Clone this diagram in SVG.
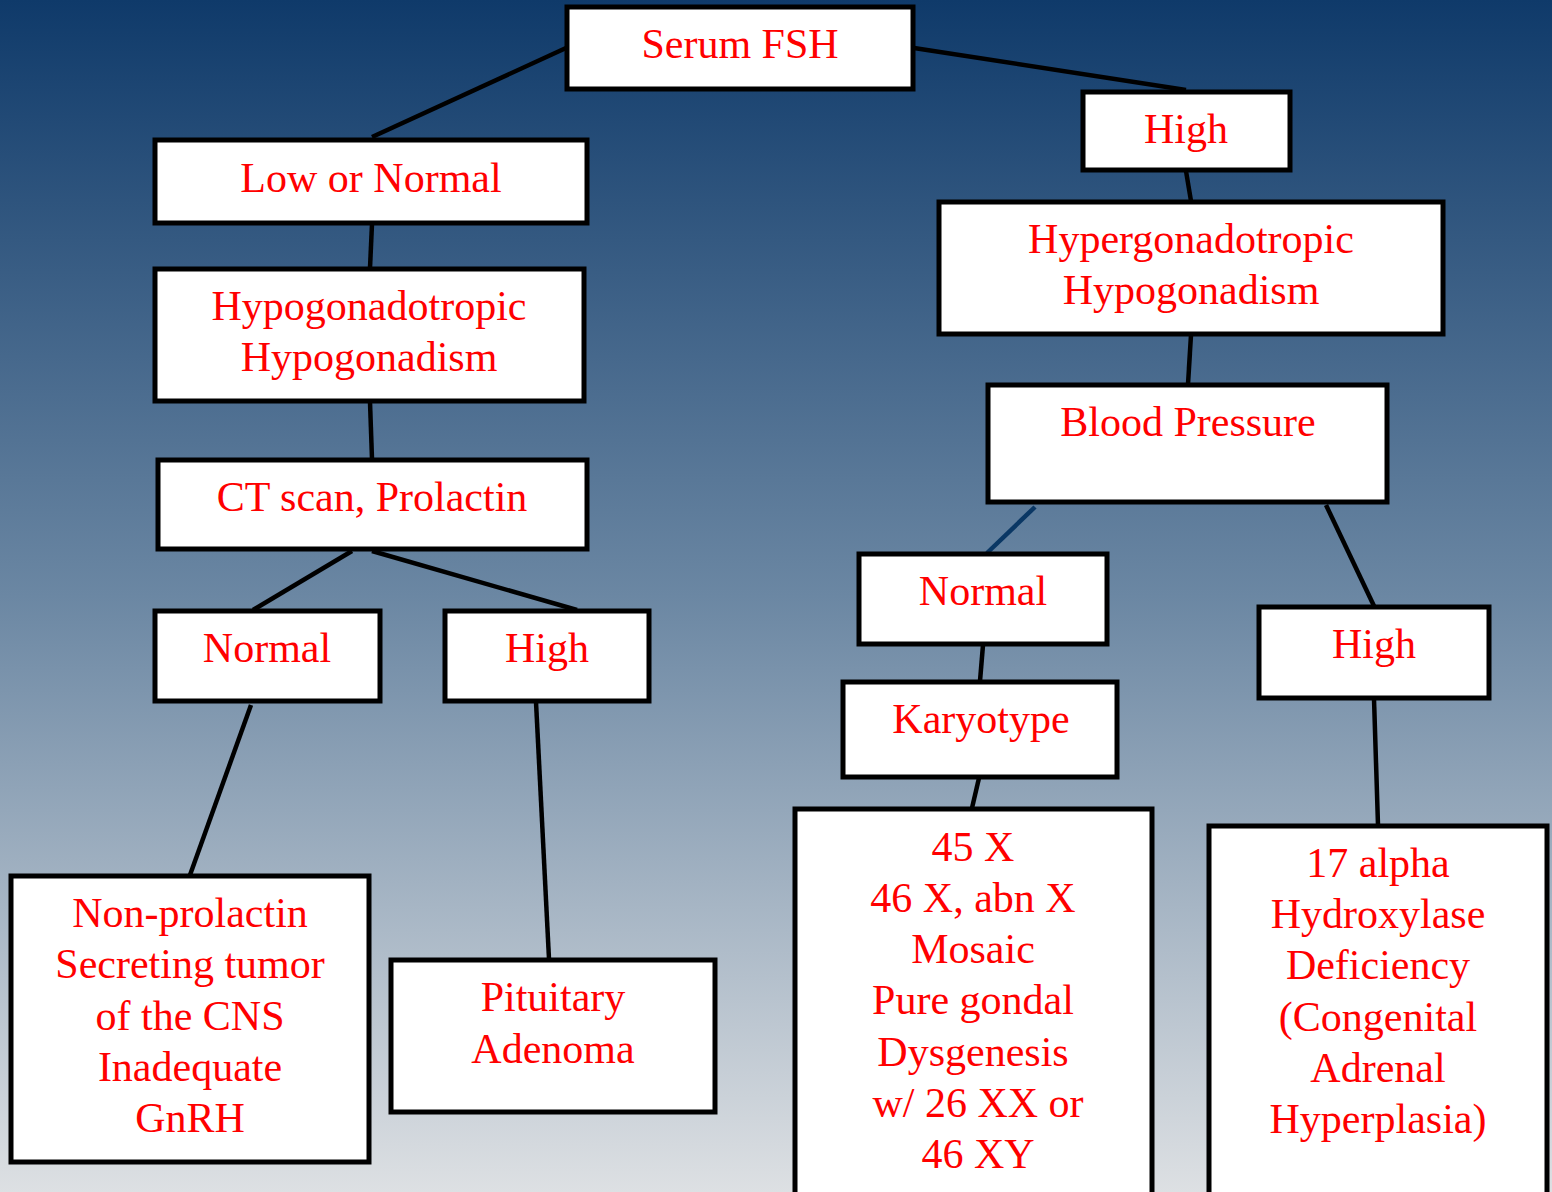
<svg xmlns="http://www.w3.org/2000/svg" width="1552" height="1192" viewBox="0 0 1552 1192">
<defs>
<linearGradient id="bg" x1="0" y1="0" x2="0" y2="1">
<stop offset="0" stop-color="#0f3a6a"/>
<stop offset="0.5" stop-color="#6b87a3"/>
<stop offset="1" stop-color="#dde0e3"/>
</linearGradient>
<style>
.box{fill:#fff;stroke:#000;stroke-width:5}
.t{font-family:"Liberation Serif","Times New Roman",serif;font-size:42px;fill:#ff0000;text-anchor:middle}
.c{stroke:#000;stroke-width:4.5;fill:none}
</style>
</defs>
<rect x="0" y="0" width="1552" height="1192" fill="url(#bg)"/>
<g id="connectors">
<line class="c" x1="566" y1="48" x2="372" y2="137"/>
<line class="c" x1="914" y1="48" x2="1186" y2="90"/>
<line class="c" x1="372" y1="224" x2="370" y2="268"/>
<line class="c" x1="370" y1="402" x2="372" y2="459"/>
<line class="c" x1="352" y1="551" x2="253" y2="610"/>
<line class="c" x1="372" y1="551" x2="577" y2="610"/>
<line class="c" x1="251" y1="705" x2="190" y2="875"/>
<line class="c" x1="536" y1="702" x2="549" y2="959"/>
<line class="c" x1="1186" y1="171" x2="1191" y2="201"/>
<line class="c" x1="1191" y1="335" x2="1188" y2="384"/>
<line class="c" x1="1035" y1="507" x2="987" y2="553" style="stroke:#0a3764"/>
<line class="c" x1="1326" y1="505" x2="1374" y2="606"/>
<line class="c" x1="983" y1="645" x2="980" y2="681"/>
<line class="c" x1="979" y1="778" x2="972" y2="808"/>
<line class="c" x1="1374" y1="699" x2="1378" y2="825"/>
</g>
<g id="serum-fsh"><rect class="box" x="567" y="7" width="346" height="82"/><text class="t" x="740" y="58">Serum FSH</text></g>
<g id="low-normal"><rect class="box" x="155" y="140" width="432" height="83"/><text class="t" x="371" y="192">Low or Normal</text></g>
<g id="hypogonadotropic"><rect class="box" x="155" y="269" width="429" height="132"/><text class="t" x="369" y="320">Hypogonadotropic</text><text class="t" x="369" y="371">Hypogonadism</text></g>
<g id="ct-prolactin"><rect class="box" x="158" y="460" width="429" height="89"/><text class="t" x="372" y="511">CT scan, Prolactin</text></g>
<g id="normal-left"><rect class="box" x="155" y="611" width="225" height="90"/><text class="t" x="267" y="662">Normal</text></g>
<g id="high-left"><rect class="box" x="445" y="611" width="204" height="90"/><text class="t" x="547" y="662">High</text></g>
<g id="non-prolactin"><rect class="box" x="11" y="876" width="358" height="286"/><text class="t" x="190" y="927">Non-prolactin</text><text class="t" x="190" y="978">Secreting tumor</text><text class="t" x="190" y="1030">of the CNS</text><text class="t" x="190" y="1081">Inadequate</text><text class="t" x="190" y="1132">GnRH</text></g>
<g id="pituitary"><rect class="box" x="391" y="960" width="324" height="152"/><text class="t" x="553" y="1011">Pituitary</text><text class="t" x="553" y="1063">Adenoma</text></g>
<g id="high-top"><rect class="box" x="1083" y="92" width="207" height="78"/><text class="t" x="1186" y="143">High</text></g>
<g id="hypergonadotropic"><rect class="box" x="939" y="202" width="504" height="132"/><text class="t" x="1191" y="253">Hypergonadotropic</text><text class="t" x="1191" y="304">Hypogonadism</text></g>
<g id="blood-pressure"><rect class="box" x="988" y="385" width="399" height="117"/><text class="t" x="1188" y="436">Blood Pressure</text></g>
<g id="normal-right"><rect class="box" x="859" y="554" width="248" height="90"/><text class="t" x="983" y="605">Normal</text></g>
<g id="high-right"><rect class="box" x="1259" y="607" width="230" height="91"/><text class="t" x="1374" y="658">High</text></g>
<g id="karyotype"><rect class="box" x="843" y="682" width="274" height="95"/><text class="t" x="981" y="733">Karyotype</text></g>
<g id="karyotype-results"><rect class="box" x="795" y="809" width="357" height="390"/><text class="t" x="973" y="861">45 X</text><text class="t" x="973" y="912">46 X, abn X</text><text class="t" x="973" y="963">Mosaic</text><text class="t" x="973" y="1014">Pure gondal</text><text class="t" x="973" y="1066">Dysgenesis</text><text class="t" x="978" y="1117">w/ 26 XX or</text><text class="t" x="978" y="1168">46 XY</text></g>
<g id="hydroxylase"><rect class="box" x="1209" y="826" width="338" height="373"/><text class="t" x="1378" y="877">17 alpha</text><text class="t" x="1378" y="928">Hydroxylase</text><text class="t" x="1378" y="979">Deficiency</text><text class="t" x="1378" y="1031">(Congenital</text><text class="t" x="1378" y="1082">Adrenal</text><text class="t" x="1378" y="1133">Hyperplasia)</text></g>
</svg>
